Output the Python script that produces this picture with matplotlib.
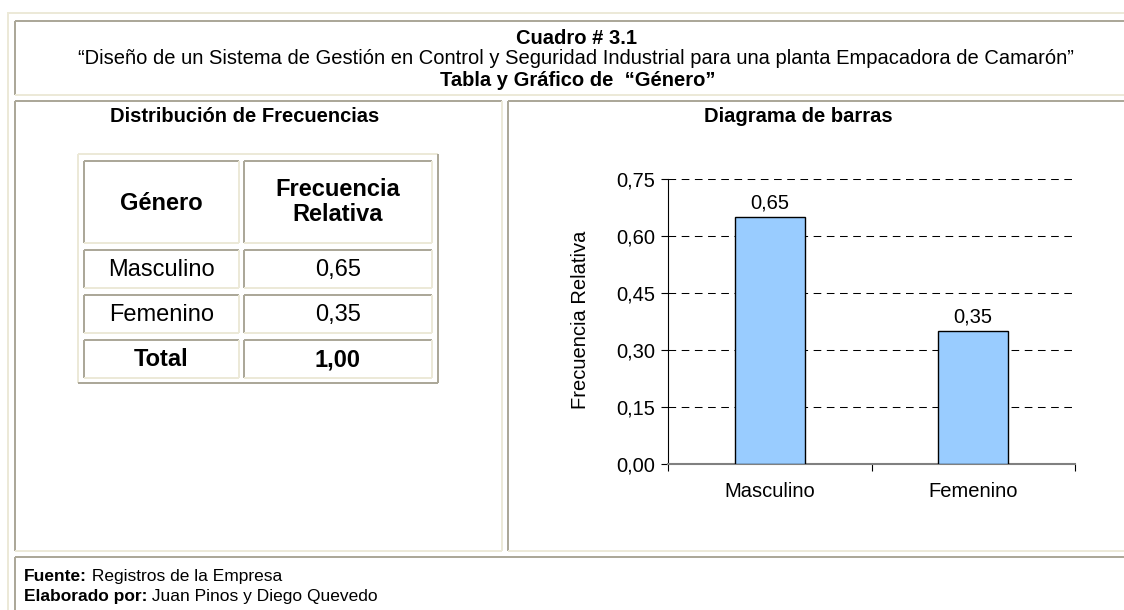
import numpy as np
import matplotlib
matplotlib.use("Agg")
import matplotlib.pyplot as plt

plt.rcParams["font.family"] = ["Liberation Sans", "DejaVu Sans"]
plt.rcParams["lines.scale_dashes"] = False

# data
categorias = ["Masculino", "Femenino"]
frecuencias = [0.65, 0.35]
total = 1.00
y_ticks = [0.00, 0.15, 0.30, 0.45, 0.60, 0.75]

titulo = "Cuadro # 3.1"
subtitulo = ("\u201cDiseño de un Sistema de Gestión en Control y Seguridad "
             "Industrial para una planta Empacadora de Camarón\u201d")
titulo_tabla = "Tabla y Gráfico de  \u201cGénero\u201d"
fuente = ("Fuente:", " Registros de la Empresa")
elaborado = ("Elaborado por:", " Juan Pinos y Diego Quevedo")


def coma(v):
    return f"{v:.2f}".replace(".", ",")


W, H = 1124, 610
BEIGE = "#ECE9D8"
GRIS = "#ACA899"
FS = 14.5        # general text
FS_TABLA = 17    # frequency table text
FS_PIE = 12.5    # footer
VA = "center_baseline"

fig = plt.figure(figsize=(W / 100, H / 100), dpi=100)
fig.patch.set_facecolor("white")

# background axes in pixel coordinates for the html-like frame
bg = fig.add_axes([0, 0, 1, 1])
bg.set_xlim(0, W)
bg.set_ylim(H, 0)
bg.axis("off")


def hline(y, x0, x1, color, lw=2):
    bg.plot([x0, x1], [y, y], color=color, lw=lw * 0.72, solid_capstyle="butt")


def vline(x, y0, y1, color, lw=2):
    bg.plot([x, x], [y0, y1], color=color, lw=lw * 0.72, solid_capstyle="butt")


def celda(x0, y0, x1, y1):
    # inset cell: dark top/left, light bottom/right
    hline(y0, x0, x1, GRIS)
    vline(x0, y0, y1, GRIS)
    hline(y1, x0, x1, BEIGE)
    vline(x1, y0, y1, BEIGE)


# outer table (outset)
hline(12.5, 7, W, BEIGE)
vline(7.5, 12, H, BEIGE)

# title cell
celda(14.5, 20.5, W + 5, 95)
# left / right cells
celda(14.5, 101, 502, 551)
celda(508, 101, W + 5, 551)
# footer cell
hline(557, 14.5, W, GRIS)
vline(14.5, 557, H, GRIS)

bg.text(576, 36, titulo, ha="center", va=VA, fontsize=FS, fontweight="bold")
bg.text(576, 57, subtitulo, ha="center", va=VA, fontsize=FS)
bg.text(578, 78, titulo_tabla, ha="center", va=VA, fontsize=FS, fontweight="bold")
bg.text(245, 115, "Distribución de Frecuencias", ha="center", va=VA,
        fontsize=FS, fontweight="bold")
bg.text(798, 115, "Diagrama de barras", ha="center", va=VA,
        fontsize=FS, fontweight="bold")

# frequency table
hline(154, 78, 438, BEIGE)
vline(78, 154, 383, BEIGE)
hline(383, 78, 438, GRIS)
vline(438, 154, 383, GRIS)

cols = [(84, 239), (244, 432)]
rows = [(160.5, 243), (249.5, 288), (294.5, 333), (339.5, 378)]
for (r0, r1) in rows:
    for (c0, c1) in cols:
        celda(c0, r0, c1, r1)

cx1 = sum(cols[0]) / 2
cx2 = sum(cols[1]) / 2
bg.text(cx1, 201, "Género", ha="center", va=VA, fontsize=FS_TABLA, fontweight="bold")
bg.text(cx2, 202, "Frecuencia\nRelativa", ha="center", va="center", fontsize=FS_TABLA,
        fontweight="bold", linespacing=1.1)
for i, (cat, val) in enumerate(zip(categorias, frecuencias)):
    yc = sum(rows[i + 1]) / 2 - 1.5
    bg.text(cx1, yc, cat, ha="center", va=VA, fontsize=FS_TABLA)
    bg.text(cx2, yc, coma(val), ha="center", va=VA, fontsize=FS_TABLA)
yc = sum(rows[3]) / 2 - 1.5
bg.text(cx1, yc, "Total", ha="center", va=VA, fontsize=FS_TABLA, fontweight="bold")
bg.text(cx2, yc, coma(total), ha="center", va=VA, fontsize=FS_TABLA, fontweight="bold")

# footer with bold lead-in
fig.canvas.draw()
renderer = fig.canvas.get_renderer()
for yy, (negrita, resto) in zip([575, 595], [fuente, elaborado]):
    t = bg.text(24, yy, negrita, ha="left", va=VA, fontsize=FS_PIE, fontweight="bold")
    bb = t.get_window_extent(renderer)
    bg.text(bb.x1, yy, resto, ha="left", va=VA, fontsize=FS_PIE)

# bar chart
ax = fig.add_axes([668 / W, 1 - 464 / H, (1075 - 668) / W, (464 - 179) / H])
ax.set_facecolor("none")
x = np.arange(len(categorias))
barras = ax.bar(x, frecuencias, width=0.345, color="#99CCFF", edgecolor="black",
                linewidth=1.0, zorder=3)
ax.bar_label(barras, labels=[coma(v) for v in frecuencias], padding=3, fontsize=FS)
ax.set_xlim(-0.5, 1.5)
ax.set_ylim(0, 0.75)
ax.set_yticks(y_ticks)
ax.set_yticklabels([coma(v) for v in y_ticks])
for yv in y_ticks[1:]:
    ax.axhline(yv, color="black", lw=0.75, ls=(0, (5.5, 4)), zorder=1)

ax.set_xticks(x)
ax.set_xticklabels(categorias)
ax.set_xticks([-0.5, 0.5, 1.5], minor=True)
ax.tick_params(axis="x", which="major", length=0, pad=13, labelsize=FS)
ax.tick_params(axis="x", which="minor", length=5, width=0.8, direction="out")
ax.tick_params(axis="y", length=5, width=0.8, direction="out", pad=4, labelsize=FS)

for s in ["top", "right"]:
    ax.spines[s].set_visible(False)
ax.spines["left"].set_color("black")
ax.spines["left"].set_linewidth(0.8)
ax.spines["bottom"].set_color("#808080")
ax.spines["bottom"].set_linewidth(1.5)

bg.text(580, 320, "Frecuencia Relativa", rotation=90, ha="center", va="center", fontsize=FS)

fig.savefig("out.png", dpi=100)
